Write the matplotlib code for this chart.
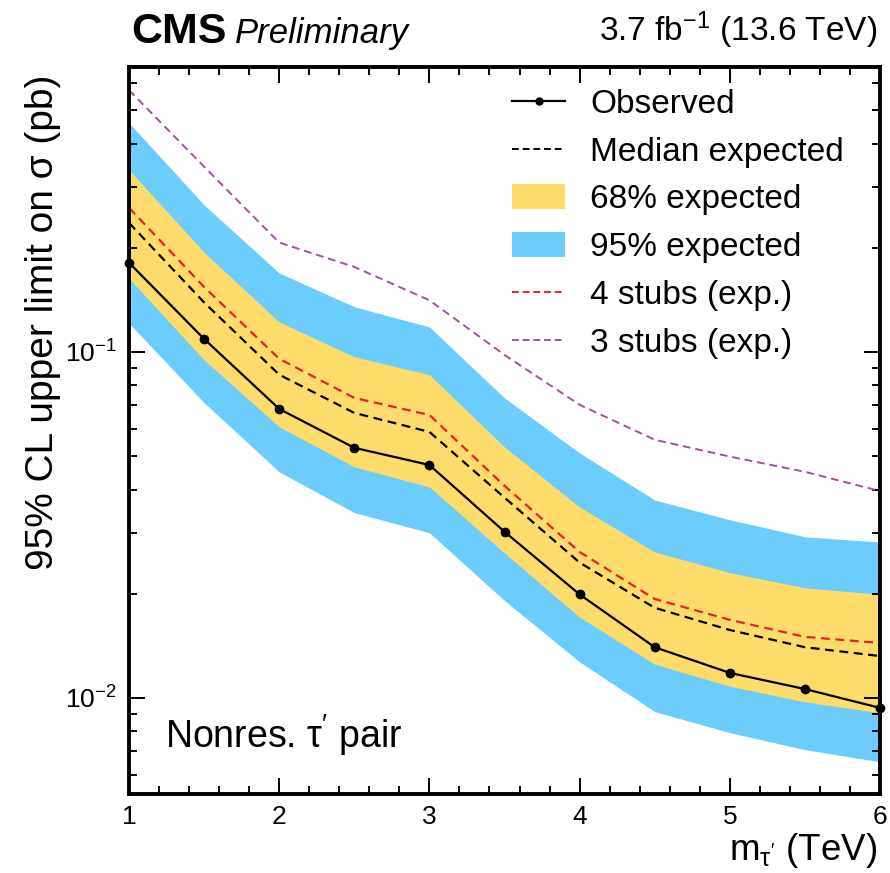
import matplotlib
matplotlib.use("Agg")
import matplotlib.pyplot as plt
from matplotlib.patches import Patch
from matplotlib.lines import Line2D
from matplotlib.ticker import LogLocator, MultipleLocator, NullFormatter

plt.rcParams['font.family'] = ['Liberation Sans', 'DejaVu Sans']
plt.rcParams['mathtext.fontset'] = 'custom'
plt.rcParams['mathtext.rm'] = 'Liberation Sans'
plt.rcParams['mathtext.it'] = 'Liberation Sans:italic'
plt.rcParams['mathtext.bf'] = 'Liberation Sans:bold'

mass = [1.0, 1.5, 2.0, 2.5, 3.0, 3.5, 4.0, 4.5, 5.0, 5.5, 6.0]
observed = [0.181, 0.109, 0.0684, 0.0528, 0.0471, 0.0302, 0.0199, 0.0140, 0.0118, 0.0106, 0.00935]
median_exp = [0.236, 0.139, 0.0859, 0.0666, 0.0587, 0.0379, 0.0246, 0.0182, 0.0157, 0.0140, 0.0132]
band68_up = [0.336, 0.194, 0.122, 0.0968, 0.0859, 0.0531, 0.0356, 0.0264, 0.0230, 0.0208, 0.0199]
band68_lo = [0.163, 0.0948, 0.0607, 0.0465, 0.0407, 0.0262, 0.0171, 0.0125, 0.0108, 0.00973, 0.00905]
band95_up = [0.459, 0.266, 0.169, 0.135, 0.118, 0.0736, 0.0510, 0.0373, 0.0327, 0.0292, 0.0282]
band95_lo = [0.121, 0.0713, 0.0450, 0.0343, 0.0300, 0.0191, 0.0127, 0.00912, 0.00793, 0.00708, 0.00653]
stubs4_exp = [0.261, 0.154, 0.0955, 0.0736, 0.0657, 0.0410, 0.0264, 0.0193, 0.0168, 0.0150, 0.0144]
stubs3_exp = [0.571, 0.343, 0.207, 0.176, 0.141, 0.098, 0.0703, 0.0557, 0.0498, 0.0450, 0.0396]

c68 = '#FEDC6C'
c95 = '#6CCCFC'
cred = '#E8202C'
cpur = '#A0529A'

W, H = 890, 873
fig = plt.figure(figsize=(8.9, 8.73), dpi=100)
ax_l, ax_r, ax_t, ax_b = 129, 880, 67, 794
ax = fig.add_axes([ax_l / W, (H - ax_b) / H, (ax_r - ax_l) / W, (ax_b - ax_t) / H])

ax.fill_between(mass, band95_lo, band95_up, color=c95, lw=0)
ax.fill_between(mass, band68_lo, band68_up, color=c68, lw=0)
ax.plot(mass, stubs3_exp, ls=(0, (4, 2.5)), color=cpur, lw=1.4)
ax.plot(mass, stubs4_exp, ls=(0, (4, 2.5)), color=cred, lw=1.6)
ax.plot(mass, median_exp, ls=(0, (4, 2.5)), color='black', lw=1.6)
ax.plot(mass, observed, '-o', color='black', lw=1.6, ms=6, clip_on=False, zorder=5)

ax.set_yscale('log')
ax.set_xlim(1, 6)
ax.set_ylim(0.00527, 0.666)

ax.xaxis.set_major_locator(MultipleLocator(1))
ax.xaxis.set_minor_locator(MultipleLocator(0.2))
ax.yaxis.set_major_locator(LogLocator(base=10, numticks=10))
ax.yaxis.set_minor_locator(LogLocator(base=10, subs=range(2, 10), numticks=20))
ax.yaxis.set_minor_formatter(NullFormatter())

ax.tick_params(which='both', direction='in', top=True, right=True, labelsize=19, width=1.4)
ax.tick_params(which='major', length=11.5)
ax.tick_params(which='minor', length=5.8)
ax.tick_params(axis='x', pad=8)
ax.tick_params(axis='y', pad=9)
for s in ax.spines.values():
    s.set_linewidth(2.8)

ax.set_ylabel('95% CL upper limit on σ (pb)', fontsize=28, loc='top', va='baseline')
ax.yaxis.set_label_coords((53 - ax_l) / (ax_r - ax_l), (ax_b - 75) / (ax_b - ax_t))
ax.set_xlabel(r"$\mathregular{m_{\tau^{\prime}}}$ (TeV)", fontsize=26.5, loc='right', va='baseline')
ax.xaxis.set_label_coords((877 - ax_l) / (ax_r - ax_l), (ax_b - 860) / (ax_b - ax_t))

fig.text(131 / W, 1 - 43 / H, 'CMS', fontsize=31, fontweight='bold', ha='left', va='baseline')
fig.text(235 / W, 1 - 43 / H, 'Preliminary', fontsize=25, style='italic', ha='left', va='baseline')
fig.text(877 / W, 1 - 41 / H, r'3.7 fb$^{-1}$ (13.6 TeV)', fontsize=24, ha='right', va='baseline')

ax.text((165 - ax_l) / (ax_r - ax_l), (ax_b - 748) / (ax_b - ax_t), "Nonres. τ$^{\\prime}$ pair",
        transform=ax.transAxes, fontsize=27, ha='left', va='baseline')

handles = [
    Line2D([], [], color='black', lw=1.6, marker='o', ms=5),
    Line2D([], [], color='black', lw=1.4, ls=(0, (3.5, 2))),
    Patch(facecolor=c68, edgecolor='none'),
    Patch(facecolor=c95, edgecolor='none'),
    Line2D([], [], color=cred, lw=1.4, ls=(0, (3.5, 2))),
    Line2D([], [], color=cpur, lw=1.4, ls=(0, (3.5, 2))),
]
labels = ['Observed', 'Median expected', '68% expected', '95% expected', '4 stubs (exp.)', '3 stubs (exp.)']
leg = ax.legend(handles, labels, loc='upper left', bbox_to_anchor=(0.4927, 0.9884), frameon=False,
                fontsize=24, handlelength=1.59, handleheight=0.78, handletextpad=0.75, labelspacing=0.5,
                borderaxespad=0)

fig.savefig('out.png', dpi=100)
